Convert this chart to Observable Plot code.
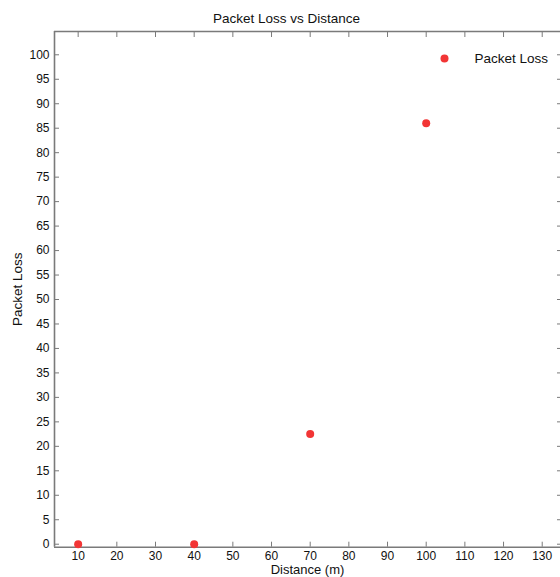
<!DOCTYPE html>
<html>
<head>
<meta charset="utf-8">
<script src="https://cdn.jsdelivr.net/npm/d3@7"></script>
<script src="https://cdn.jsdelivr.net/npm/@observablehq/plot@0.6"></script>
<style>
  html, body { margin: 0; padding: 0; background: #fff; }
  #chart svg { display: block; }
</style>
</head>
<body>
<div id="chart"></div>
<script>
// Data
const distance = [10, 40, 70, 100];
const packetLoss = [0, 0, 22.5, 86];
const seriesName = "Packet Loss";
const xTicks = [10, 20, 30, 40, 50, 60, 70, 80, 90, 100, 110, 120, 130];
const yTicks = [0, 5, 10, 15, 20, 25, 30, 35, 40, 45, 50, 55, 60, 65, 70, 75, 80, 85, 90, 95, 100];
const xDomain = [3.88, 134.73];
const yDomain = [-0.61, 104.76];
const titleText = "Packet Loss vs Distance";
const xLabel = "Distance (m)";
const yLabel = "Packet Loss";

const points = distance.map((d, i) => ({distance: d, loss: packetLoss[i]}));

const font = "'Liberation Sans', Arial, Helvetica, sans-serif";
const axisColor = "#7a7a7a";
const red = "#f23535";

const chart = Plot.plot({
  width: 560,
  height: 577,
  marginLeft: 54,
  marginRight: 0,
  marginTop: 31,
  marginBottom: 30.3,
  style: {fontFamily: font, fontSize: "12px", color: "#111", background: "#fff"},
  x: {domain: xDomain},
  y: {domain: yDomain},
  marks: [
    // frame lines (top, bottom, left)
    Plot.ruleY(yDomain, {stroke: axisColor, strokeWidth: 1.6}),
    Plot.ruleX([xDomain[0]], {stroke: axisColor, strokeWidth: 1.6}),
    // tick labels
    Plot.axisX({anchor: "bottom", ticks: xTicks, tickSize: 0, tickPadding: 4, label: null, fontSize: 12}),
    Plot.axisY({anchor: "left", ticks: yTicks, tickSize: 0, tickPadding: 5, label: null, fontSize: 12}),
    // inward ticks on all four sides
    Plot.axisX({anchor: "bottom", ticks: xTicks, tickSize: -5, tickFormat: () => "", label: null, stroke: axisColor}),
    Plot.axisX({anchor: "top", ticks: xTicks, tickSize: -5, tickFormat: () => "", label: null, stroke: axisColor}),
    Plot.axisY({anchor: "left", ticks: yTicks, tickSize: -5, tickFormat: () => "", label: null, stroke: axisColor}),
    Plot.axisY({anchor: "right", ticks: yTicks, tickSize: -4, tickFormat: () => "", label: null, stroke: axisColor}),
    // data
    Plot.dot(points, {x: "distance", y: "loss", r: 4, fill: red, stroke: "none"}),
    // legend
    Plot.dot([seriesName], {frameAnchor: "top-right", dx: -116, dy: 27, r: 4, fill: red, stroke: "none"}),
    Plot.text([seriesName], {frameAnchor: "top-right", dx: -86, dy: 27, text: d => d, textAnchor: "start", lineAnchor: "middle", fontSize: 13.5, fill: "#111"}),
    // title and axis labels
    Plot.text([titleText], {frameAnchor: "top", dx: -21, dy: -13, text: d => d, textAnchor: "middle", lineAnchor: "middle", fontSize: 13.5, fill: "#111"}),
    Plot.text([xLabel], {frameAnchor: "bottom", dy: 23, text: d => d, textAnchor: "middle", lineAnchor: "middle", fontSize: 13, fill: "#111"}),
    Plot.text([yLabel], {frameAnchor: "left", dx: -37, rotate: -90, text: d => d, textAnchor: "middle", lineAnchor: "middle", fontSize: 13.5, fill: "#111"})
  ]
});

document.getElementById("chart").append(chart);
</script>
</body>
</html>
